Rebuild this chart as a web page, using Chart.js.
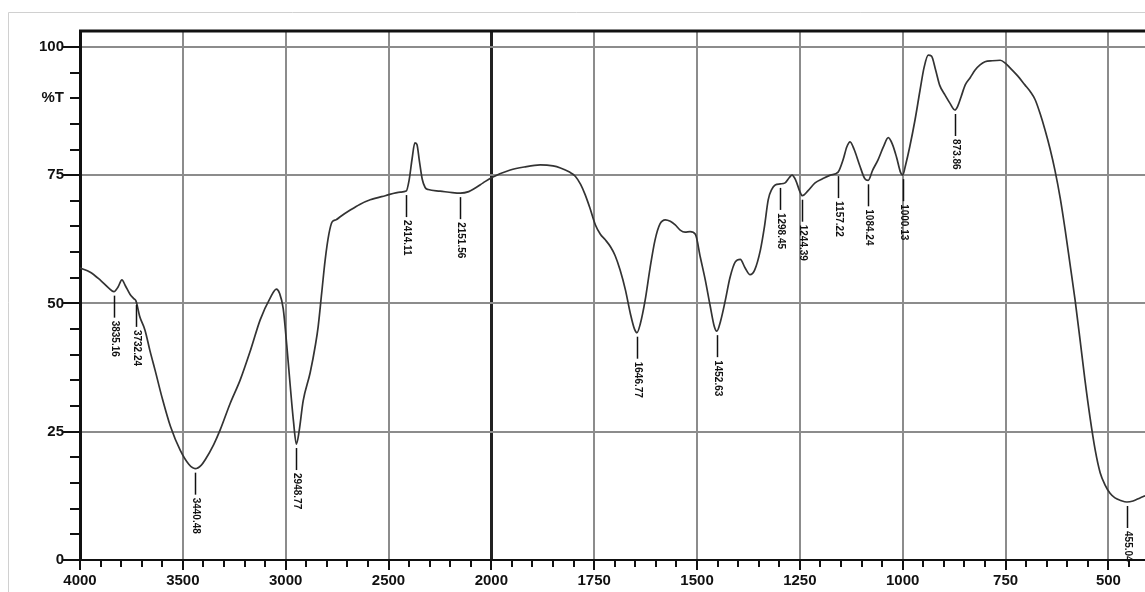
<!DOCTYPE html>
<html lang="en">
<head>
    <meta charset="UTF-8">
    <title>IR spectrum - %T</title>
    <script src="https://cdn.jsdelivr.net/npm/chart.js"></script>
    <style>
        html, body { margin: 0; padding: 0; background: #fff; }
        .wrap { position: relative; width: 1145px; height: 592px; }
    </style>
</head>
<body>
    <div class="wrap"><canvas id="irChart" width="1145" height="592"></canvas></div>

    <script>
        // Espectro (cm-1, %T)
        const wavenumbers = [
            4000, 3950, 3900, 3860, 3835, 3815, 3796, 3780, 3757, 3740, 3728, 3710, 3684, 3660, 3635, 3600,
            3560, 3513, 3470, 3440, 3410, 3392, 3350, 3319, 3270, 3221, 3170, 3124, 3075, 3045, 3030, 3012,
            2995, 2978, 2962, 2948, 2935, 2915, 2881, 2855, 2842, 2825, 2808, 2790, 2774, 2755, 2735, 2686,
            2640, 2589, 2516, 2443, 2414, 2400, 2385, 2372, 2362, 2350, 2336, 2322, 2307, 2249, 2190, 2151,
            2110, 2078, 2040, 2000, 1954, 1920, 1881, 1850, 1832, 1810, 1796, 1783, 1772, 1760, 1747, 1735,
            1723, 1710, 1699, 1687, 1674, 1662, 1652, 1646, 1638, 1626, 1614, 1602, 1590, 1577, 1565, 1553,
            1541, 1529, 1517, 1504, 1492, 1480, 1468, 1458, 1452, 1443, 1431, 1420, 1407, 1395, 1383, 1371,
            1360, 1346, 1336, 1327, 1318, 1310, 1298, 1286, 1276, 1269, 1260, 1250, 1244, 1230, 1213, 1195,
            1176, 1157, 1145, 1136, 1128, 1118, 1105, 1092, 1084, 1073, 1060, 1047, 1035, 1025, 1015, 1005,
            1000, 993, 983, 970, 958, 948, 938, 930, 920, 910, 897, 885, 873, 866, 858, 848,
            836, 824, 812, 800, 782, 763, 750, 739, 720, 703, 690, 678, 666, 654, 642, 630,
            617, 605, 593, 581, 569, 557, 545, 532, 520, 508, 496, 484, 470, 455, 440, 423, 411
        ];
        const transmittance = [
            56.9, 56.1, 54.5, 53.0, 52.3, 53.2, 54.6, 53.5, 51.8, 51.0, 50.5, 47.5, 44.8, 40.8, 37.0, 31.5,
            26.0, 21.4, 18.6, 17.8, 18.5, 19.5, 22.5, 25.3, 30.5, 35.1, 41.0, 46.8, 51.1, 52.8, 52.0, 49.0,
            42.0, 34.0, 27.0, 22.6, 25.0, 31.0, 36.5, 42.0, 45.5, 52.0, 58.5, 63.5, 65.9, 66.3, 66.9, 68.2,
            69.3, 70.2, 71.0, 71.7, 71.9, 74.0, 78.3, 81.3, 81.0, 77.8, 74.2, 72.6, 72.2, 71.9, 71.6, 71.5,
            71.8, 72.5, 73.5, 74.5, 76.0, 76.6, 77.0, 76.8, 76.4, 75.6, 74.8, 73.2, 71.2, 68.5, 65.3, 63.5,
            62.4, 61.0, 59.3, 56.5, 52.6, 48.0, 45.0, 44.3, 46.0, 50.7, 57.0, 62.4, 65.5, 66.3, 66.0, 65.3,
            64.3, 63.9, 64.0, 63.5, 59.0, 54.6, 49.5, 45.5, 44.6, 46.5, 50.7, 55.0, 58.1, 58.6, 56.9, 55.6,
            56.5, 60.4, 65.0, 70.2, 72.3, 73.1, 73.3, 73.5, 74.5, 75.0, 74.0, 71.8, 71.0, 72.0, 73.5, 74.3,
            75.0, 75.6, 78.0, 80.5, 81.5, 80.0, 77.0, 74.3, 74.0, 76.0, 78.0, 80.5, 82.3, 81.0, 78.5, 75.5,
            75.0, 77.0, 80.5, 85.8, 91.5, 96.0, 98.4, 98.2, 95.5, 92.5, 90.6, 89.0, 87.7, 88.5, 90.3, 92.6,
            94.0, 95.5, 96.5, 97.1, 97.3, 97.4, 96.8, 95.9, 94.3, 92.6, 91.3, 89.7, 87.0, 83.8, 80.2, 76.0,
            70.5, 64.3, 57.5, 50.7, 43.0, 35.1, 28.0, 21.4, 17.0, 14.6, 13.0, 12.1, 11.6, 11.3, 11.5, 12.1, 12.5
        ];

        // Picos marcados
        const peakPositions = [3835, 3728, 3440, 2948, 2414, 2151, 1646, 1452, 1298, 1244, 1157, 1084, 1000, 873, 455];
        const peakLabels = ['3835.16', '3732.24', '3440.48', '2948.77', '2414.11', '2151.56', '1646.77', '1452.63',
                            '1298.45', '1244.39', '1157.22', '1084.24', '1000.13', '873.86', '455.04'];

        // Etiquetas de los ejes
        const xTickLabels = ['4000', '3500', '3000', '2500', '2000', '1750', '1500', '1250', '1000', '750', '500'];
        const yTickLabels = { 0: '0', 25: '25', 50: '50', 75: '75', 90: '%T', 100: '100' };

        // Escala partida: 500 cm-1 por división hasta 2000, 250 cm-1 por división después
        function toAxis(wn) {
            return wn >= 2000 ? (4000 - wn) / 500 : 4 + (2000 - wn) / 250;
        }

        function valueAt(wn) {
            for (let i = 0; i < wavenumbers.length - 1; i++) {
                const a = wavenumbers[i], b = wavenumbers[i + 1];
                if (wn <= a && wn >= b) {
                    const t = (a - wn) / (a - b);
                    return transmittance[i] + t * (transmittance[i + 1] - transmittance[i]);
                }
            }
            return transmittance[transmittance.length - 1];
        }

        const points = wavenumbers.map((wn, i) => ({ x: toAxis(wn), y: transmittance[i] }));
        const fontFam = "'Liberation Sans', 'DejaVu Sans', sans-serif";
        const near = (v, n) => Math.abs(v - Math.round(v / n) * n) < 1e-6;

        const framePlugin = {
            id: 'frame',
            beforeDraw(chart) {
                const ctx = chart.ctx;
                ctx.save();
                ctx.fillStyle = '#fff';
                ctx.fillRect(0, 0, chart.width, chart.height);
                ctx.strokeStyle = '#d0d0d0';
                ctx.lineWidth = 1;
                ctx.beginPath();
                ctx.moveTo(8.5, chart.height);
                ctx.lineTo(8.5, 12.5);
                ctx.lineTo(chart.width, 12.5);
                ctx.stroke();
                ctx.restore();
            },
            afterDraw(chart) {
                const ctx = chart.ctx;
                const area = chart.chartArea;
                const xs = chart.scales.x, ys = chart.scales.y;
                ctx.save();
                // borde superior
                ctx.strokeStyle = '#111';
                ctx.lineWidth = 3;
                ctx.beginPath();
                ctx.moveTo(area.left - 1, area.top);
                ctx.lineTo(area.right, area.top);
                ctx.stroke();

                // marcas del eje Y
                ctx.lineWidth = 2;
                for (let v = 0; v <= 100; v += 5) {
                    const y = Math.round(ys.getPixelForValue(v));
                    const len = v % 25 === 0 ? 17 : 10;
                    ctx.beginPath();
                    ctx.moveTo(area.left - len, y);
                    ctx.lineTo(area.left, y);
                    ctx.stroke();
                }
                // marcas del eje X
                for (let i = 0; i * 0.2 <= xs.max + 1e-6; i++) {
                    const u = i * 0.2;
                    const x = Math.round(xs.getPixelForValue(u));
                    const len = i % 5 === 0 ? 10 : 7;
                    ctx.beginPath();
                    ctx.moveTo(x, area.bottom);
                    ctx.lineTo(x, area.bottom + len);
                    ctx.stroke();
                }

                // etiquetas de picos
                ctx.fillStyle = '#111';
                ctx.lineWidth = 1.5;
                ctx.font = 'bold 10px ' + fontFam;
                peakPositions.forEach((wn, i) => {
                    const x = Math.round(xs.getPixelForValue(toAxis(wn))) + 0.5;
                    const y = ys.getPixelForValue(valueAt(wn));
                    ctx.beginPath();
                    ctx.moveTo(x, y + 4);
                    ctx.lineTo(x, y + 26);
                    ctx.stroke();
                    ctx.save();
                    ctx.translate(x, y + 29);
                    ctx.rotate(Math.PI / 2);
                    ctx.textAlign = 'left';
                    ctx.textBaseline = 'middle';
                    ctx.fillText(peakLabels[i], 0, 0);
                    ctx.restore();
                });
                ctx.restore();
            }
        };

        new Chart(document.getElementById('irChart'), {
            type: 'line',
            data: {
                datasets: [{
                    data: points,
                    borderColor: '#333',
                    borderWidth: 1.7,
                    pointRadius: 0,
                    fill: false,
                    cubicInterpolationMode: 'monotone'
                }]
            },
            options: {
                responsive: false,
                animation: false,
                events: [],
                layout: { padding: { top: 31, right: 0, left: 0, bottom: 0 } },
                plugins: {
                    legend: { display: false },
                    tooltip: { enabled: false }
                },
                scales: {
                    x: {
                        type: 'linear',
                        min: 0,
                        max: toAxis(411),
                        afterFit(scale) { scale.height = 32; },
                        border: { display: true, color: '#111', width: 2 },
                        grid: {
                            drawTicks: false,
                            color: ctx => {
                                const v = ctx.tick ? ctx.tick.value : 0;
                                if (!near(v, 1) || Math.round(v) === 0) return 'rgba(0,0,0,0)';
                                return Math.round(v) === 4 ? '#222' : '#8c8c8c';
                            },
                            lineWidth: ctx => (ctx.tick && Math.abs(ctx.tick.value - 4) < 1e-6) ? 3 : 2
                        },
                        ticks: {
                            stepSize: 0.2,
                            autoSkip: false,
                            maxRotation: 0,
                            includeBounds: false,
                            padding: 12,
                            color: '#111',
                            font: { family: fontFam, size: 15, weight: 'bold' },
                            callback: v => near(v, 1) ? (xTickLabels[Math.round(v)] || '') : ''
                        }
                    },
                    y: {
                        min: 0,
                        max: 103.1,
                        afterFit(scale) { scale.width = 80; },
                        border: { display: true, color: '#111', width: 3 },
                        grid: {
                            drawTicks: false,
                            color: ctx => {
                                const v = ctx.tick ? Math.round(ctx.tick.value) : 0;
                                return (v > 0 && v % 25 === 0) ? '#8c8c8c' : 'rgba(0,0,0,0)';
                            },
                            lineWidth: 2
                        },
                        ticks: {
                            stepSize: 5,
                            autoSkip: false,
                            includeBounds: false,
                            padding: 16,
                            color: '#111',
                            font: { family: fontFam, size: 15, weight: 'bold' },
                            callback: v => yTickLabels[Math.round(v)] || ''
                        }
                    }
                }
            },
            plugins: [framePlugin]
        });
    </script>
</body>
</html>
